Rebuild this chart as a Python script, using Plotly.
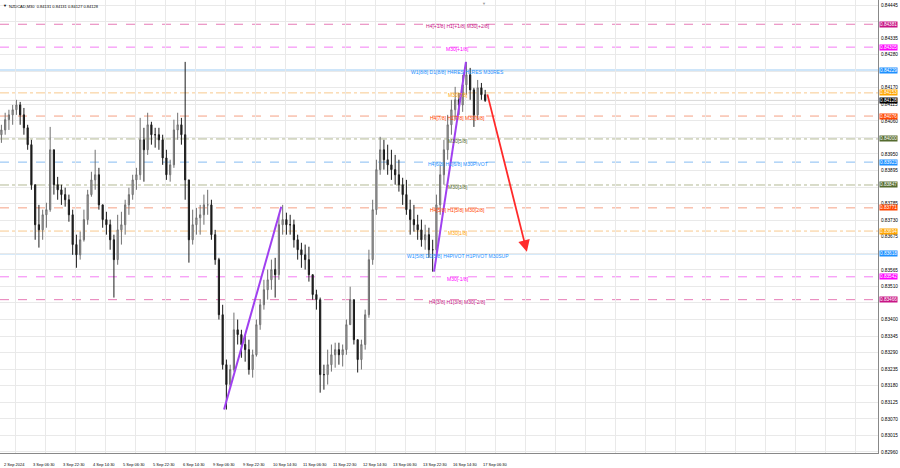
import plotly.graph_objects as go

TITLE_TEXT = "NZDCAD,M30  0.84131 0.84131 0.84127 0.84128"

# ---- 2-hour candles (first bar starts 2 Sep 14:00) ----
first_open = 0.84014
high = [0.84047,0.84087,0.84097,0.84113,0.84130,0.84123,0.84103,0.84047,0.83997,0.83848,
        0.83781,0.83765,0.83788,0.84040,0.83964,0.83874,0.83848,0.83838,0.83815,0.83765,
        0.83682,0.83692,0.83765,0.83831,0.83891,0.83964,0.83904,0.83781,0.83758,0.83732,
        0.83682,0.83748,0.83758,0.83798,0.83838,0.83881,0.83904,0.84070,0.84037,0.84087,
        0.84057,0.84037,0.84037,0.84014,0.83964,0.83931,0.84064,0.84087,0.84070,0.84256,
        0.83864,0.83765,0.83771,0.83781,0.83815,0.83831,0.83798,0.83698,0.83605,0.83449,
        0.83267,0.83250,0.83423,0.83400,0.83366,0.83350,0.83333,0.83300,0.83400,0.83466,
        0.83532,0.83566,0.83599,0.83605,0.83748,0.83781,0.83755,0.83748,0.83732,0.83682,
        0.83655,0.83649,0.83642,0.83549,0.83499,0.83473,0.83250,0.83300,0.83317,0.83323,
        0.83323,0.83317,0.83400,0.83509,0.83466,0.83333,0.83333,0.83433,0.83632,0.83798,
        0.83931,0.84007,0.83997,0.83981,0.83964,0.83947,0.83931,0.83871,0.83864,0.83798,
        0.83781,0.83748,0.83732,0.83715,0.83705,0.83665,0.83815,0.83914,0.83997,0.84080,
        0.84130,0.84173,0.84153,0.84213,0.84256,0.84236,0.84170,0.84196,0.84186,0.84163]
low = [0.83987,0.84014,0.84030,0.84047,0.84080,0.84047,0.84014,0.83964,0.83831,0.83665,
       0.83639,0.83665,0.83705,0.83758,0.83815,0.83798,0.83781,0.83775,0.83725,0.83615,
       0.83572,0.83599,0.83659,0.83715,0.83808,0.83831,0.83765,0.83705,0.83682,0.83632,
       0.83473,0.83582,0.83649,0.83682,0.83748,0.83798,0.83831,0.83864,0.83858,0.83947,
       0.83981,0.83971,0.83964,0.83914,0.83864,0.83858,0.83904,0.83997,0.83981,0.83798,
       0.83589,0.83649,0.83682,0.83682,0.83715,0.83748,0.83665,0.83582,0.83400,0.83234,
       0.83101,0.83174,0.83227,0.83317,0.83273,0.83260,0.83217,0.83207,0.83277,0.83366,
       0.83433,0.83466,0.83499,0.83473,0.83532,0.83682,0.83682,0.83682,0.83639,0.83599,
       0.83572,0.83566,0.83526,0.83466,0.83433,0.83157,0.83167,0.83184,0.83227,0.83240,
       0.83250,0.83244,0.83283,0.83383,0.83317,0.83224,0.83234,0.83300,0.83406,0.83582,
       0.83748,0.83881,0.83898,0.83881,0.83864,0.83848,0.83825,0.83781,0.83748,0.83682,
       0.83692,0.83665,0.83642,0.83632,0.83605,0.83559,0.83615,0.83748,0.83848,0.83931,
       0.84014,0.84064,0.84080,0.84090,0.84147,0.84130,0.84040,0.84064,0.84130,0.84123]
close = [0.84030,0.84064,0.84080,0.84097,0.84113,0.84080,0.84037,0.83981,0.83848,0.83715,
         0.83698,0.83748,0.83765,0.83964,0.83848,0.83831,0.83815,0.83798,0.83748,0.83649,
         0.83615,0.83665,0.83732,0.83815,0.83864,0.83881,0.83781,0.83732,0.83715,0.83665,
         0.83599,0.83698,0.83715,0.83781,0.83815,0.83864,0.83881,0.83997,0.83964,0.84047,
         0.84014,0.84014,0.83997,0.83937,0.83881,0.83914,0.84030,0.84047,0.84014,0.83864,
         0.83665,0.83715,0.83738,0.83748,0.83781,0.83781,0.83682,0.83599,0.83416,0.83250,
         0.83184,0.83234,0.83366,0.83350,0.83317,0.83300,0.83234,0.83283,0.83383,0.83449,
         0.83499,0.83532,0.83566,0.83549,0.83715,0.83732,0.83715,0.83715,0.83665,0.83632,
         0.83615,0.83599,0.83549,0.83483,0.83466,0.83217,0.83217,0.83250,0.83283,0.83300,
         0.83283,0.83300,0.83383,0.83466,0.83333,0.83267,0.83317,0.83416,0.83599,0.83765,
         0.83898,0.83964,0.83931,0.83914,0.83898,0.83881,0.83848,0.83815,0.83765,0.83732,
         0.83715,0.83698,0.83665,0.83682,0.83632,0.83632,0.83781,0.83881,0.83964,0.84047,
         0.84097,0.84130,0.84113,0.84180,0.84213,0.84163,0.84080,0.84170,0.84147,0.84128]
open_ = [first_open] + close[:-1]
BARS_PER_CANDLE = 4          # M30 bars per drawn candle
candle_x = [BARS_PER_CANDLE * i + 1.5 for i in range(len(close))]

current_price = 0.84128

# ---- Murrey levels ----
level_values = [0.84381, 0.84305, 0.84229, 0.84153, 0.84076, 0.84000, 0.83923,
                0.83847, 0.83771, 0.83694, 0.83618, 0.83542, 0.83466]
level_names = ["H4[+1/8] H1[+1/8] M30[+2/8]", "M30[+1/8]",
               "W1[8/8] D1[8/8] H4RES H1RES M30RES", "M30[7/8]",
               "H4[7/8] H1[7/8] M30[6/8]", "M30[5/8]", "H4[6/8] H1[6/8] M30PIVOT",
               "M30[3/8]", "H4[5/8] H1[5/8] M30[2/8]", "M30[1/8]",
               "W1[5/8] D1[5/8] H4PIVOT H1PIVOT M30SUP", "M30[-1/8]",
               "H4[3/8] H1[3/8] M30[-2/8]"]
level_kind = ["vr", "mg", "res", "or", "orr", "ol", "piv", "ol", "orr", "or", "res", "mg", "vr"]

# ---- price axis ticks ----
price_ticks = [0.84445, 0.84390, 0.84335, 0.84280, 0.84225, 0.84170, 0.84115, 0.84060,
               0.84005, 0.83950, 0.83895, 0.83840, 0.83785, 0.83730, 0.83675, 0.83620,
               0.83565, 0.83510, 0.83455, 0.83400, 0.83345, 0.83290, 0.83235, 0.83180,
               0.83125, 0.83070, 0.83015, 0.82960]

# ---- time axis (M30 bar index from 2 Sep 14:00) ----
time_labels = ["3 Sep 06:30", "3 Sep 22:30", "4 Sep 14:30", "5 Sep 06:30", "5 Sep 22:30",
               "6 Sep 14:30", "9 Sep 06:30", "9 Sep 22:30", "10 Sep 14:30", "11 Sep 06:30",
               "11 Sep 22:30", "12 Sep 14:30", "13 Sep 06:30", "13 Sep 22:30",
               "16 Sep 14:30", "17 Sep 06:30"]
time_label_index = [33 + 32 * k for k in range(len(time_labels))]
first_date_label = "2 Sep 2024"

# ---- drawings (M30 index, price) ----
purple_lines = [((239, 0.83101), (300, 0.83775)), ((463, 0.83559), (497, 0.84256))]
red_arrow = ((519.5, 0.84153), (562, 0.83625))
shift_marker_index = 516

# ---------------- styles ----------------
STY = {
    "vr":  dict(line="#e67bb6", dash="dash", text="#c71585", box="#c71585"),
    "mg":  dict(line="#f47cf4", dash="dash", text="#ff00ff", box="#ff00ff"),
    "res": dict(line="#9ccbf3", dash="solid", text="#1e90ff", box="#1e90ff"),
    "or":  dict(line="#f8c98e", dash="dashdot", text="#ffa500", box="#ffa500"),
    "orr": dict(line="#f5a084", dash="dash", text="#ff4500", box="#ff4500"),
    "ol":  dict(line="#b3b994", dash="dashdot", text="#556b2f", box="#556b2f"),
    "piv": dict(line="#86bdf2", dash="dash", text="#1e90ff", box="#1e90ff"),
}
FONT = "Liberation Sans"
PX_PER_BAR = 0.9375
PLOT_W = 878
X_MAX = PLOT_W / PX_PER_BAR
Y_MIN, Y_MAX = 0.829566, 0.844616
LABEL_X = 488
PX_PER_PRICE = 30100
BOX_CLEAR_PX = 3.5

fig = go.Figure()
fig.add_trace(go.Candlestick(
    x=candle_x, open=open_, high=high, low=low, close=close,
    increasing=dict(line=dict(color="#707070", width=1), fillcolor="#b0b0b0"),
    decreasing=dict(line=dict(color="#1c1c1c", width=1), fillcolor="#1c1c1c"),
    whiskerwidth=0, hoverinfo="skip", showlegend=False))

shapes = []
annotations = []
for v, name, k in zip(level_values, level_names, level_kind):
    s = STY[k]
    shapes.append(dict(type="line", xref="paper", x0=0, x1=1, y0=v, y1=v,
                       line=dict(color=s["line"], width=1, dash=s["dash"]), layer="below"))
    annotations.append(dict(x=LABEL_X, y=v, xref="x", yref="y", text=name, showarrow=False,
                            xanchor="center", yanchor="middle", yshift=-2,
                            font=dict(family=FONT, size=5, color=s["text"])))
    annotations.append(dict(x=1, y=v, xref="paper", yref="y", text=f"{v:.5f}", showarrow=False,
                            xanchor="left", yanchor="middle", xshift=1, bgcolor=s["box"],
                            borderpad=0, font=dict(family=FONT, size=4.7, color="white")))

# bid line + current price box
shapes.append(dict(type="line", xref="paper", x0=0, x1=1, y0=current_price, y1=current_price,
                   line=dict(color="#d9d9d9", width=1), layer="below"))
annotations.append(dict(x=1, y=current_price, xref="paper", yref="y", text=f"{current_price:.5f}",
                        showarrow=False, xanchor="left", yanchor="middle", xshift=1,
                        bgcolor="#000000", borderpad=0,
                        font=dict(family=FONT, size=4.7, color="white")))

# tick labels hidden where a coloured price box covers them
box_prices = level_values + [current_price]
tick_text = []
for p in price_ticks:
    covered = any(abs(p - b) * PX_PER_PRICE < BOX_CLEAR_PX for b in box_prices)
    tick_text.append("" if covered else f"{p:.5f}")

# purple lines
for (xa, ya), (xb, yb) in purple_lines:
    shapes.append(dict(type="line", xref="x", yref="y", x0=xa, y0=ya, x1=xb, y1=yb,
                       line=dict(color="#a040f0", width=2)))
# red arrow
(ax0, ay0), (ax1, ay1) = red_arrow
annotations.append(dict(x=ax1, y=ay1, ax=ax0, ay=ay0, xref="x", yref="y", axref="x", ayref="y",
                        showarrow=True, arrowhead=2, arrowsize=1.3, arrowwidth=1.8,
                        arrowcolor="#ff2a2a", text=""))

# time labels
annotations.append(dict(x=2, y=0, xref="x", yref="paper", text=first_date_label, showarrow=False,
                        xanchor="left", yanchor="middle", yshift=-11,
                        font=dict(family=FONT, size=4.0, color="#000")))
for idx, t in zip(time_label_index, time_labels):
    annotations.append(dict(x=idx, y=0, xref="x", yref="paper", text=t, showarrow=False,
                            xanchor="left", yanchor="middle", yshift=-11,
                            font=dict(family=FONT, size=4.0, color="#000")))

# title and small markers
annotations.append(dict(x=0, y=1, xref="paper", yref="paper", text="▼", showarrow=False,
                        xanchor="left", yanchor="top", xshift=1, yshift=-1,
                        font=dict(family=FONT, size=4, color="#000")))
annotations.append(dict(x=0, y=1, xref="paper", yref="paper", text=TITLE_TEXT, showarrow=False,
                        xanchor="left", yanchor="top", xshift=7, yshift=-2,
                        font=dict(family=FONT, size=4.0, color="#000")))
annotations.append(dict(x=shift_marker_index, y=1, xref="x", yref="paper", text="▼",
                        showarrow=False, xanchor="center", yanchor="top", yshift=1,
                        font=dict(family=FONT, size=4, color="#9a9a9a")))

fig.update_layout(
    width=900, height=468, autosize=False,
    margin=dict(l=0, r=900 - PLOT_W, t=0, b=15),
    paper_bgcolor="white", plot_bgcolor="white",
    boxgap=0.55,
    shapes=shapes, annotations=annotations, showlegend=False,
    xaxis=dict(range=[0, X_MAX], rangeslider=dict(visible=False),
               tickvals=[16 + 32 * k for k in range(30)], showticklabels=False,
               showgrid=True, gridcolor="#e9e9e9", gridwidth=1, zeroline=False,
               showline=True, linecolor="#888888", linewidth=1, ticks=""),
    yaxis=dict(range=[Y_MIN, Y_MAX], side="right", tickvals=price_ticks,
               ticktext=tick_text,
               tickfont=dict(family=FONT, size=4.7, color="#000"),
               showgrid=True, gridcolor="#e9e9e9", gridwidth=1, zeroline=False,
               showline=True, linecolor="#888888", linewidth=1, ticks="",
               ticklabelstandoff=1),
)

fig.write_html("out.html", config={"displayModeBar": False},
               post_script="document.body.style.margin='0';document.body.style.overflow='hidden';")
